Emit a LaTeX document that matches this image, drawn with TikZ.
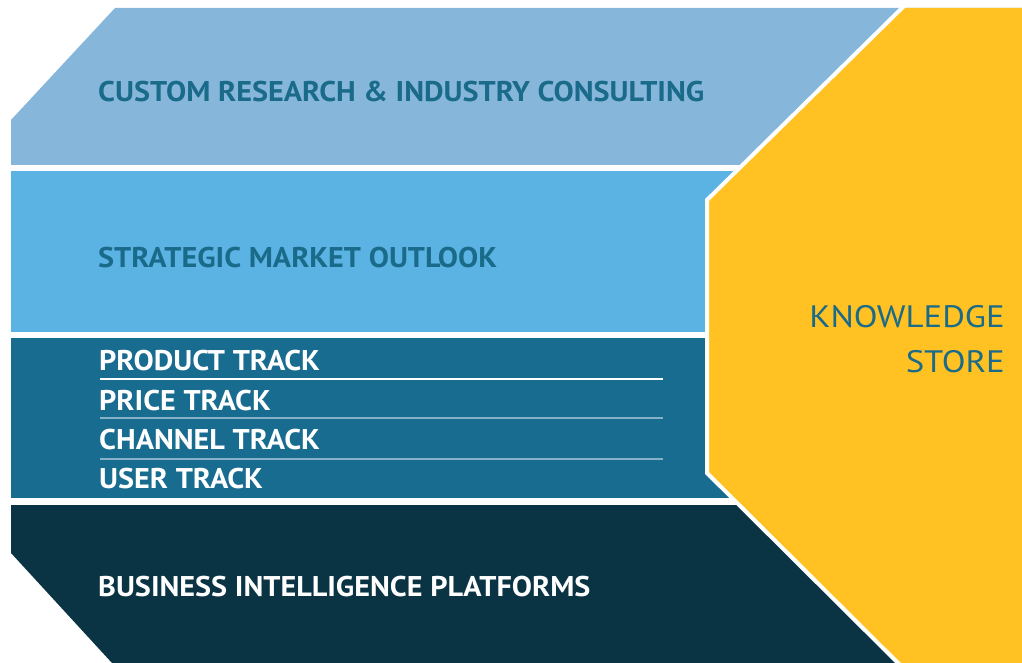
\documentclass[tikz,border=0pt]{standalone}
\usepackage{fontspec}
\setmainfont{PT Sans}
\newfontfamily\bandfont[FakeStretch=1.06]{PT Sans}
\newfontfamily\storefont[FakeStretch=1.12]{PT Sans}
\definecolor{bandA}{HTML}{86B7DB}
\definecolor{bandB}{HTML}{5BB3E3}
\definecolor{bandC}{HTML}{176C8F}
\definecolor{bandD}{HTML}{0A3344}
\definecolor{storeY}{HTML}{FFC222}
\definecolor{tealtxt}{HTML}{1A6A8A}
\definecolor{sepline}{HTML}{86B2C7}
\tikzset{
  lbl/.style={anchor=base west, inner sep=0pt, font=\bandfont\fontsize{28.5}{30}\selectfont\bfseries},
  darklbl/.style={lbl, text=tealtxt},
  lightlbl/.style={lbl, text=white},
  storelbl/.style={anchor=base east, inner sep=0pt, text=tealtxt, font=\storefont\fontsize{31}{33}\selectfont},
  gap/.style={draw=white, line width=4pt, line join=miter},
}
\begin{document}
\begin{tikzpicture}[x=1pt,y=-1pt]
\useasboundingbox (0,0) rectangle (1022,663);
\fill[white] (0,0) rectangle (1022,663);
% bands
\fill[bandA] (11,120) -- (115,8) -- (1022,8) -- (1022,165) -- (11,165) -- cycle;
\fill[bandB] (11,171) rectangle (1022,332);
\fill[bandC] (11,338) rectangle (1022,498);
\fill[bandD] (11,505) -- (1022,505) -- (1022,663) -- (112,663) -- (11,553) -- cycle;
% separators in band 3
\coordinate (s1a) at (100,379); \coordinate (s1b) at (663,379);
\coordinate (s2a) at (100,418); \coordinate (s2b) at (663,418);
\coordinate (s3a) at (100,459); \coordinate (s3b) at (663,459);
\draw[white, line width=1.6pt] (s1a) -- (s1b);
\draw[sepline, line width=2pt] (s2a) -- (s2b);
\draw[sepline, line width=2pt] (s3a) -- (s3b);
% knowledge store
\fill[storeY] (904,8) -- (1022,8) -- (1022,663) -- (898,663) -- (707,473) -- (707,200) -- cycle;
\draw[gap] (904,6) -- (707,200) -- (707,473) -- (900,665);
% labels
\node[darklbl] (custom) at (98,102) {CUSTOM RESEARCH \& INDUSTRY CONSULTING};
\node[darklbl] (strat) at (98,267) {STRATEGIC MARKET OUTLOOK};
\node[lightlbl] (prod) at (99,370) {PRODUCT TRACK};
\node[lightlbl] (price) at (99,410) {PRICE TRACK};
\node[lightlbl] (chan) at (99,449) {CHANNEL TRACK};
\node[lightlbl] (user) at (99,488) {USER TRACK};
\node[lightlbl] (bi) at (98,596) {BUSINESS INTELLIGENCE PLATFORMS};
\node[storelbl] (know) at (1005,327) {KNOWLEDGE};
\node[storelbl] (store) at (1005,372) {STORE};
\end{tikzpicture}
\end{document}
